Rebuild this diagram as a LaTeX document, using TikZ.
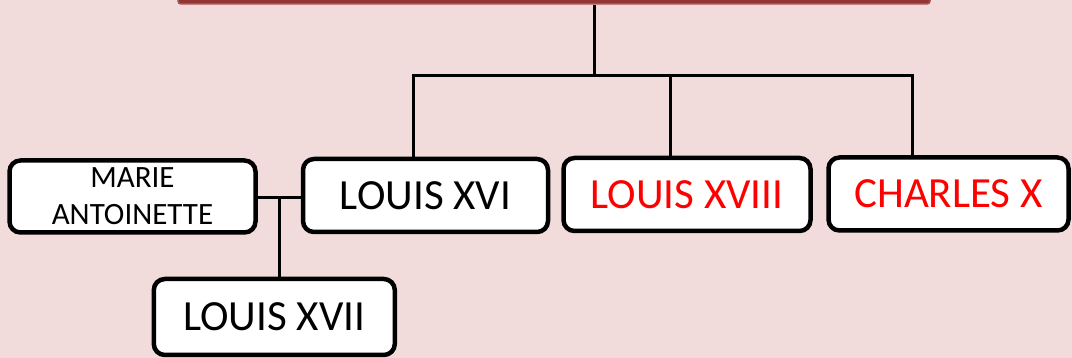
\documentclass[tikz,border=0pt]{standalone}
\usepackage{fontspec}
\setmainfont{Carlito}
\definecolor{bgpink}{HTML}{F2DCDB}
\definecolor{barred}{HTML}{943634}
\definecolor{namered}{HTML}{FF0000}
\newcommand\lowtext[1]{\raisebox{-5pt}{#1}}
\tikzset{
  person/.style={draw=black, fill=white, line width=4.5pt, rounded corners=11pt,
    minimum height=73pt, inner sep=0pt, align=center,
    font=\fontsize{43}{50}\selectfont},
  link/.style={draw=black, line width=3pt}
}
\begin{document}
\begin{tikzpicture}[x=1pt,y=-1pt]
\useasboundingbox (0,0) rectangle (1072,358);
\fill[bgpink] (0,0) rectangle (1072,358);
% top bar
\node[draw=barred!85!white, fill=barred, line width=1.5pt, rounded corners=3pt,
  minimum width=752pt, minimum height=30pt, inner sep=0pt] (top) at (554,-11) {};
% people
\node[person, minimum width=246pt, minimum height=72pt,
  font=\fontsize{31}{38}\selectfont] (ma) at (132.5,196.5) {\raisebox{-2pt}{MARIE}\\\raisebox{-1pt}{ANTOINETTE}};
\node[person, minimum width=245pt] (l16) at (425.5,195.5) {\lowtext{LOUIS XVI}};
\node[person, minimum width=247pt, text=namered] (l18) at (687,194.5) {\lowtext{LOUIS XVIII}};
\node[person, minimum width=240pt, text=namered] (c10) at (948.5,194) {\lowtext{CHARLES X}};
\node[person, minimum width=241pt, minimum height=76pt] (l17) at (274.3,317) {\lowtext{LOUIS XVII}};
% connector points
\coordinate (j) at (594,75.5);
\coordinate (b16) at (413.3,75.5);
\coordinate (b18) at (670.5,75.5);
\coordinate (b10) at (912,75.5);
\coordinate (m) at (279.3,197.7);
% connectors
\draw[link] (j) -- (j |- top.south);
\draw[link] (b16 |- l16.north) -- (b16) -- (b10) -- (b10 |- c10.north);
\draw[link] (b18) -- (b18 |- l18.north);
\draw[link] (ma.east |- m) -- (m -| l16.west);
\draw[link] (m) -- (m |- l17.north);
\end{tikzpicture}
\end{document}
